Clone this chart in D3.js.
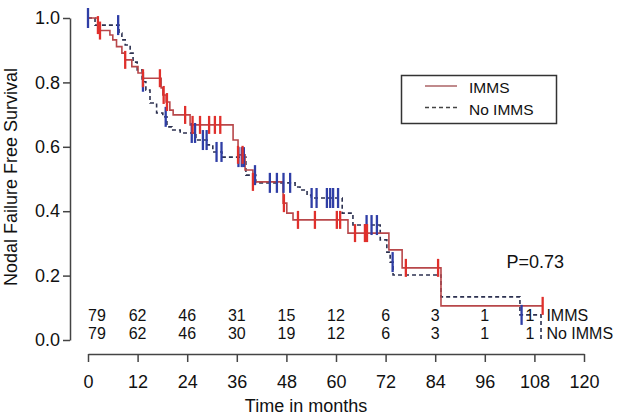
<!DOCTYPE html>
<html><head><meta charset="utf-8">
<script src="https://cdn.jsdelivr.net/npm/d3@7/dist/d3.min.js"></script>
<style>
html,body{margin:0;padding:0;background:#fff;}
svg{display:block;font-family:"Liberation Sans",Arial,sans-serif;}
</style></head>
<body>
<svg id="c" width="618" height="416"></svg>
<script>
// ---- data ----
const groups = ["IMMS", "No IMMS"];
const xTicks = [0, 12, 24, 36, 48, 60, 72, 84, 96, 108, 120];
const yTicks = [0.0, 0.2, 0.4, 0.6, 0.8, 1.0];

// IMMS Kaplan-Meier steps (months, survival after step)
const immsTimes = [0, 2.4, 2.9, 5.3, 6.0, 6.9, 8.2, 9.0, 10.6, 12.1, 13.3, 17.7, 18.1, 18.9, 19.8, 20.6, 24.7, 35.1, 36.3, 38.0, 39.9, 47.2, 48.1, 49.6, 62.9, 72.8, 76.0, 85.4];
const immsSurv  = [1.0, 0.978, 0.961, 0.947, 0.932, 0.911, 0.891, 0.870, 0.849, 0.829, 0.813, 0.783, 0.761, 0.739, 0.714, 0.699, 0.668, 0.621, 0.575, 0.528, 0.491, 0.425, 0.394, 0.373, 0.332, 0.280, 0.224, 0.106];
const immsEnd = 110.0;
const immsCensor = [2.4, 2.9, 9.0, 13.3, 17.4, 18.3, 19.1, 23.5, 25.3, 27.1, 29.3, 30.7, 32.0, 36.3, 37.4, 39.9, 47.4, 50.8, 54.9, 60.2, 61.0, 64.6, 67.0, 67.5, 76.9, 84.7, 110.0];

// No IMMS Kaplan-Meier steps
const noTimes = [0, 1.7, 7.5, 8.2, 9.0, 10.2, 10.9, 11.9, 13.1, 14.0, 15.0, 16.6, 18.1, 19.1, 20.3, 22.3, 26.1, 28.8, 30.2, 32.4, 38.2, 40.6, 50.1, 51.3, 53.0, 54.0, 61.5, 64.1, 70.7, 72.3, 73.1, 73.8, 85.4, 104.5, 109.6];
const noSurv  = [1.0, 0.978, 0.953, 0.932, 0.916, 0.891, 0.863, 0.839, 0.802, 0.776, 0.736, 0.705, 0.693, 0.662, 0.652, 0.643, 0.621, 0.606, 0.584, 0.568, 0.512, 0.488, 0.475, 0.466, 0.450, 0.441, 0.394, 0.357, 0.311, 0.273, 0.242, 0.202, 0.134, 0.078, 0.0];
const noEnd = 109.6;
const noCensor = [0.0, 7.3, 13.3, 18.8, 25.1, 25.9, 27.8, 28.7, 31.1, 32.3, 36.4, 37.2, 37.7, 40.4, 44.0, 45.7, 47.3, 48.9, 54.1, 55.3, 57.8, 58.6, 59.3, 60.5, 67.4, 68.6, 69.9, 73.7, 104.9];

// numbers at risk
const riskTimes = [0, 12, 24, 36, 48, 60, 72, 84, 96, 108];
const riskImms  = [79, 62, 46, 31, 15, 12, 6, 3, 1, 1];
const riskNo    = [79, 62, 46, 30, 19, 12, 6, 3, 1, 1];
const pText = "P=0.73";

// ---- chart ----
const svg = d3.select("#c");
const x = d3.scaleLinear().domain([0, 120]).range([88, 584]);
const y = d3.scaleLinear().domain([0, 1]).range([340, 18]);
const axisCol = "#444";

// y axis
const gy = svg.append("g").attr("transform", "translate(70,0)")
  .call(d3.axisLeft(y).tickValues(yTicks).tickFormat(d3.format(".1f")).tickSize(7).tickSizeOuter(0).tickPadding(3));
gy.selectAll("path,line").attr("stroke", axisCol).attr("stroke-width", 1.5);
gy.selectAll("text").attr("font-size", 18).attr("fill", "#111").attr("font-family", "Liberation Sans, Arial, sans-serif");

// x axis
const gx = svg.append("g").attr("transform", "translate(0,354)")
  .call(d3.axisBottom(x).tickValues(xTicks).tickSize(8).tickSizeOuter(0).tickPadding(13));
gx.selectAll("path,line").attr("stroke", axisCol).attr("stroke-width", 1.5);
gx.selectAll("text").attr("font-size", 18).attr("fill", "#111").attr("font-family", "Liberation Sans, Arial, sans-serif");

// axis titles
svg.append("text").attr("x", 306).attr("y", 411.5).attr("text-anchor", "middle")
  .attr("font-size", 18).attr("fill", "#111").text("Time in months");
svg.append("text").attr("transform", "translate(17,177) rotate(-90)").attr("text-anchor", "middle")
  .attr("font-size", 18).attr("fill", "#111").text("Nodal Failure Free Survival");

// KM curves
function stepPoints(times, surv, end) {
  const pts = times.map((t, i) => [t, surv[i]]);
  pts.push([end, surv[surv.length - 1]]);
  return pts;
}
function survAt(times, surv, t) {
  let v = surv[0];
  for (let i = 0; i < times.length; i++) if (times[i] <= t) v = surv[i];
  return v;
}
const line = d3.line().x(d => x(d[0])).y(d => y(d[1])).curve(d3.curveStepAfter);

const redLine = "#b8474a", redTick = "#e0302c";
const blueLine = "#2c3150", blueTick = "#2f3ea6";

svg.append("path").datum(stepPoints(noTimes, noSurv, noEnd))
  .attr("d", line).attr("fill", "none").attr("stroke", blueLine).attr("stroke-width", 1.6)
  .attr("stroke-dasharray", "4,3");
svg.append("path").datum(stepPoints(immsTimes, immsSurv, immsEnd))
  .attr("d", line).attr("fill", "none").attr("stroke", redLine).attr("stroke-width", 1.6);

// censor marks
svg.append("g").selectAll("line").data(noCensor).join("line")
  .attr("x1", d => x(d)).attr("x2", d => x(d))
  .attr("y1", d => y(survAt(noTimes, noSurv, d)) - 10)
  .attr("y2", d => y(survAt(noTimes, noSurv, d)) + 10)
  .attr("stroke", blueTick).attr("stroke-width", 2.3);
svg.append("g").selectAll("line").data(immsCensor).join("line")
  .attr("x1", d => x(d)).attr("x2", d => x(d))
  .attr("y1", d => y(survAt(immsTimes, immsSurv, d)) - 9)
  .attr("y2", d => y(survAt(immsTimes, immsSurv, d)) + 9)
  .attr("stroke", redTick).attr("stroke-width", 2.3);

// legend
const lg = svg.append("g");
lg.append("rect").attr("x", 401.5).attr("y", 75.5).attr("width", 155).attr("height", 48)
  .attr("fill", "#fff").attr("stroke", "#333").attr("stroke-width", 1.5);
lg.append("line").attr("x1", 425).attr("x2", 457).attr("y1", 86).attr("y2", 86)
  .attr("stroke", "#c08a8c").attr("stroke-width", 2);
lg.append("line").attr("x1", 425).attr("x2", 457).attr("y1", 107.5).attr("y2", 107.5)
  .attr("stroke", "#444").attr("stroke-width", 1.6).attr("stroke-dasharray", "4,3");
lg.append("text").attr("x", 469).attr("y", 93).attr("font-size", 15.5).attr("fill", "#111").text(groups[0]);
lg.append("text").attr("x", 469).attr("y", 114.5).attr("font-size", 15.5).attr("fill", "#111").text(groups[1]);

// p value
svg.append("text").attr("x", 506.5).attr("y", 268.3).attr("font-size", 18).attr("fill", "#111").text(pText);

// numbers at risk
function riskRow(vals, baseline) {
  svg.append("g").selectAll("text").data(vals).join("text")
    .attr("x", (d, i) => x(riskTimes[i]))
    .attr("y", baseline)
    .attr("text-anchor", (d, i) => i === 0 ? "start" : (i === vals.length - 1 ? "end" : "middle"))
    .attr("font-size", 16).attr("fill", "#111").text(d => d);
}
riskRow(riskImms, 320.7);
riskRow(riskNo, 339.3);
svg.append("text").attr("x", x(108) + 12).attr("y", 320.7).attr("font-size", 16).attr("fill", "#111").text(groups[0]);
svg.append("text").attr("x", x(108) + 12).attr("y", 339.3).attr("font-size", 16).attr("fill", "#111").text(groups[1]);
</script>
</body></html>
